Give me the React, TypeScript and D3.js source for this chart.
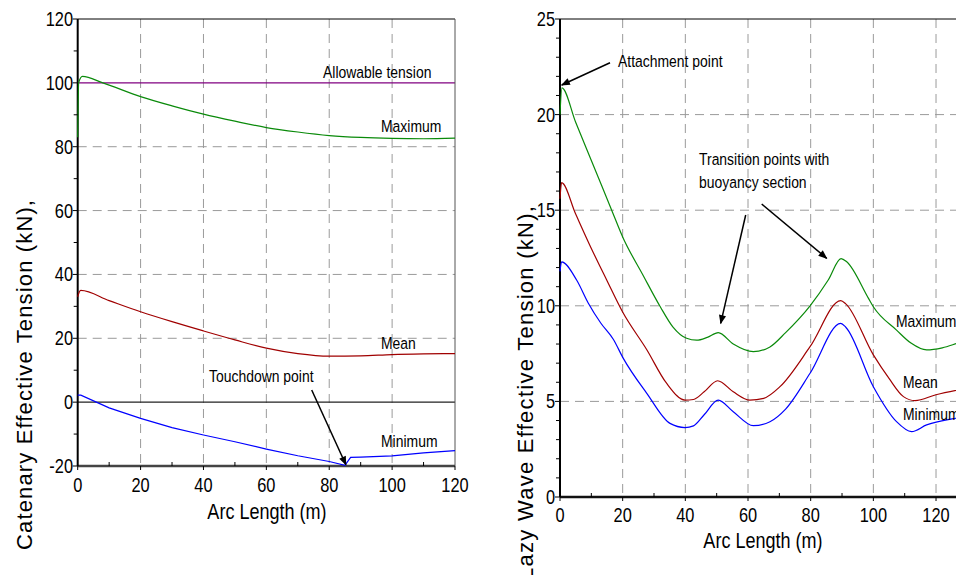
import React from "react";
import * as d3 from "d3";

// ---- catenary riser (left panel)
const catXTicks = [0, 20, 40, 60, 80, 100, 120];
const catYTicks = [-20, 0, 20, 40, 60, 80, 100, 120];
const allowable = 100;

const catMaxArc = [0, 0.3, 1.5, 8, 20, 30, 40, 50, 60, 70, 80, 90, 100, 110, 120];
const catMaxT = [83, 100, 102, 100, 95.7, 92.8, 90.2, 88, 86, 84.6, 83.5, 82.9, 82.6, 82.5, 82.7];

const catMeanArc = [0, 0.5, 1, 10, 20, 30, 40, 50, 60, 70, 80, 90, 100, 110, 120];
const catMeanT = [33, 34.5, 35, 31.8, 28.3, 25.2, 22.3, 19.5, 16.9, 15.2, 14.4, 14.5, 14.9, 15.1, 15.2];

const catMinArc = [0, 1, 10, 20, 30, 40, 50, 60, 70, 80, 85, 86.8, 90, 100, 110, 120];
const catMinT = [2.2, 2.2, -1.8, -5.1, -8.0, -10.3, -12.4, -14.7, -16.8, -18.6, -19.8, -17.3, -17.2, -16.8, -15.9, -15.2];

// ---- lazy wave riser (right panel)
const lwXTicks = [0, 20, 40, 60, 80, 100, 120, 140];
const lwYTicks = [0, 5, 10, 15, 20, 25];

const lwMaxArc = [0, 0.6, 5, 10, 16.5, 20, 26.5, 32, 36, 40.4, 43.6, 47, 50.5, 55.3, 61.7, 67, 72, 79.8, 85.6, 89.7, 91.5, 98.4, 100, 107.4, 112, 117, 122, 127, 132];
const lwMaxT = [20.0, 21.4, 19.6, 17.6, 15.0, 13.6, 11.6, 9.95, 8.9, 8.3, 8.2, 8.35, 8.6, 8.0, 7.6, 7.85, 8.6, 10.0, 11.35, 12.47, 12.3, 10.4, 9.95, 8.73, 8.05, 7.69, 7.8, 8.05, 8.3];

const lwMeanArc = [0, 0.5, 5, 10, 14.9, 19.9, 27.7, 34, 39.9, 42.6, 46, 50.3, 55.3, 60.6, 65, 70.2, 79.8, 89.6, 91.2, 100, 105, 109.6, 113.3, 120, 132];
const lwMeanT = [15.6, 16.44, 14.8, 13.0, 11.35, 9.7, 7.7, 5.95, 5.07, 5.1, 5.5, 6.08, 5.5, 5.07, 5.16, 5.77, 7.86, 10.27, 10.1, 7.43, 6.2, 5.25, 5.04, 5.35, 5.75];

const lwMinArc = [0, 0.5, 5.3, 9, 13, 17, 20.2, 27.7, 35.1, 39.9, 42.6, 46, 50.5, 55.3, 61.7, 67, 72, 79.8, 89.6, 91.2, 100, 107.4, 112.2, 117, 126.4, 132];
const lwMinT = [11.8, 12.3, 11.35, 10.15, 9.1, 8.25, 7.25, 5.42, 3.85, 3.63, 3.72, 4.3, 5.07, 4.46, 3.73, 3.94, 4.6, 6.47, 9.08, 8.88, 5.77, 3.94, 3.42, 3.77, 4.12, 4.25];

const sans = "'Liberation Sans', Arial, sans-serif";
const GREEN = "#0a8a0a";
const RED = "#a00000";
const BLUE = "#0000ff";
const PURPLE = "#800080";
const GRID = "#9a9a9a";

const zip = (xs: number[], ys: number[]) => xs.map((x, i) => [x, ys[i]] as [number, number]);

// condensed text (the original uses an Arial Narrow look)
const NText = ({ x, y, size = 17, anchor = "start", children }: any) => (
  <text transform={`translate(${x},${y}) scale(0.82,1)`} textAnchor={anchor} fontFamily={sans} fontSize={size} fill="#000">
    {children}
  </text>
);

export default function App() {
  // left panel scales
  const cx = d3.scaleLinear().domain([0, 120]).range([77.7, 455]);
  const cy = d3.scaleLinear().domain([-20, 120]).range([466, 19]);
  // right panel scales (axis runs past the window edge)
  const lx = d3.scaleLinear().domain([0, 140]).range([560, 998.7]);
  const ly = d3.scaleLinear().domain([0, 25]).range([497, 19]);

  const cLine = d3.line<[number, number]>().x(d => cx(d[0])).y(d => cy(d[1])).curve(d3.curveMonotoneX);
  const cLineLin = d3.line<[number, number]>().x(d => cx(d[0])).y(d => cy(d[1]));
  const lLine = d3.line<[number, number]>().x(d => lx(d[0])).y(d => ly(d[1])).curve(d3.curveMonotoneX);

  const catMinor = d3.range(-10, 120, 20);
  const catXMinor = d3.range(10, 120, 20);
  const lwMinor = d3.range(0, 26, 1).filter(v => v % 5 !== 0);
  const lwXMinor = d3.range(10, 140, 20);

  return (
    <svg width={956} height={575} style={{ position: "absolute", left: 0, top: 0, background: "#fff" }}>
      <defs>
        <marker id="arr" viewBox="0 0 10 10" refX="9" refY="5" markerWidth="10" markerHeight="9" orient="auto-start-reverse" markerUnits="userSpaceOnUse">
          <path d="M0,1 L10,5 L0,9 z" fill="#000" />
        </marker>
      </defs>

      {/* ================= left panel ================= */}
      <g>
        {catXTicks.slice(1, -1).map(t => (
          <line key={"cgx" + t} x1={cx(t)} x2={cx(t)} y1={cy(120)} y2={cy(-20)} stroke={GRID} strokeDasharray="9,6" />
        ))}
        {[20, 40, 60, 80].map(t => (
          <line key={"cgy" + t} x1={cx(0)} x2={cx(120)} y1={cy(t)} y2={cy(t)} stroke={GRID} strokeDasharray="9,6" />
        ))}
        <line x1={cx(0)} x2={cx(120)} y1={cy(0)} y2={cy(0)} stroke="#222" strokeWidth={1.2} />
        <line x1={cx(0)} x2={cx(120)} y1={cy(allowable)} y2={cy(allowable)} stroke={PURPLE} strokeWidth={1.2} />
        {/* frame */}
        <line x1={cx(0)} x2={cx(120)} y1={cy(120)} y2={cy(120)} stroke="#000" />
        <line x1={cx(120)} x2={cx(120)} y1={cy(120)} y2={cy(-20)} stroke="#555" />
        <line x1={cx(0)} x2={cx(120)} y1={cy(-20)} y2={cy(-20)} stroke="#444" strokeWidth={2.5} />
        <line x1={cx(0)} x2={cx(0)} y1={cy(120)} y2={cy(-20)} stroke="#000" strokeWidth={2} />

        <path d={cLine(zip(catMaxArc, catMaxT)) || ""} fill="none" stroke={GREEN} strokeWidth={1.2} />
        <path d={cLine(zip(catMeanArc, catMeanT)) || ""} fill="none" stroke={RED} strokeWidth={1.2} />
        <path d={cLineLin(zip(catMinArc, catMinT)) || ""} fill="none" stroke={BLUE} strokeWidth={1.2} />

        {/* y axis ticks & labels */}
        {catYTicks.map(t => (
          <g key={"cyt" + t}>
            <line x1={cx(0) - 5} x2={cx(0)} y1={cy(t)} y2={cy(t)} stroke="#000" />
            <NText x={73} y={cy(t) + 7} size={20} anchor="end">{t}</NText>
          </g>
        ))}
        {catMinor.map(t => (
          <line key={"cym" + t} x1={cx(0) - 4} x2={cx(0)} y1={cy(t)} y2={cy(t)} stroke="#000" />
        ))}
        {catXTicks.map(t => (
          <g key={"cxt" + t}>
            <line x1={cx(t)} x2={cx(t)} y1={cy(-20)} y2={cy(-20) + 4} stroke="#000" />
            <NText x={cx(t)} y={492} size={20} anchor="middle">{t}</NText>
          </g>
        ))}
        {catXMinor.map(t => (
          <line key={"cxm" + t} x1={cx(t)} x2={cx(t)} y1={cy(-20) - 4} y2={cy(-20)} stroke="#000" />
        ))}
        <NText x={267} y={519} size={22} anchor="middle">Arc Length (m)</NText>
        <text transform="translate(32,550) rotate(-90)" x={0} y={0} textLength={350} lengthAdjust="spacing" fontFamily={sans} fontSize={22} fill="#000">Catenary Effective Tension (kN),</text>

        {/* annotations */}
        <NText x={323} y={78}>Allowable tension</NText>
        <NText x={381} y={132}>Maximum</NText>
        <NText x={381} y={349}>Mean</NText>
        <NText x={381} y={447}>Minimum</NText>
        <NText x={209} y={382}>Touchdown point</NText>
        <line x1={311.7} y1={390} x2={cx(85.3)} y2={cy(-19.6)} stroke="#000" strokeWidth={1.5} markerEnd="url(#arr)" />
      </g>

      {/* ================= right panel ================= */}
      <g>
        {lwXTicks.slice(1).map(t => (
          <line key={"lgx" + t} x1={lx(t)} x2={lx(t)} y1={ly(25)} y2={ly(0)} stroke={GRID} strokeDasharray="9,6" />
        ))}
        {lwYTicks.slice(1, -1).map(t => (
          <line key={"lgy" + t} x1={lx(0)} x2={956} y1={ly(t)} y2={ly(t)} stroke={GRID} strokeDasharray="9,6" />
        ))}
        <line x1={lx(0)} x2={956} y1={ly(25)} y2={ly(25)} stroke="#000" />
        <line x1={lx(0)} x2={956} y1={ly(0)} y2={ly(0)} stroke="#111" strokeWidth={2.5} />
        <line x1={lx(0)} x2={lx(0)} y1={ly(25)} y2={ly(0)} stroke="#000" strokeWidth={2} />

        <path d={lLine(zip(lwMaxArc, lwMaxT)) || ""} fill="none" stroke={GREEN} strokeWidth={1.2} />
        <path d={lLine(zip(lwMeanArc, lwMeanT)) || ""} fill="none" stroke={RED} strokeWidth={1.2} />
        <path d={lLine(zip(lwMinArc, lwMinT)) || ""} fill="none" stroke={BLUE} strokeWidth={1.2} />

        {lwYTicks.map(t => (
          <g key={"lyt" + t}>
            <line x1={lx(0) - 5} x2={lx(0)} y1={ly(t)} y2={ly(t)} stroke="#000" />
            <NText x={555} y={ly(t) + 7} size={20} anchor="end">{t}</NText>
          </g>
        ))}
        {lwMinor.map(t => (
          <line key={"lym" + t} x1={lx(0) - 4} x2={lx(0)} y1={ly(t)} y2={ly(t)} stroke="#000" />
        ))}
        {lwXTicks.map(t => (
          <g key={"lxt" + t}>
            <line x1={lx(t)} x2={lx(t)} y1={ly(0)} y2={ly(0) + 4} stroke="#000" />
            <NText x={lx(t)} y={522} size={20} anchor="middle">{t}</NText>
          </g>
        ))}
        {lwXMinor.map(t => (
          <line key={"lxm" + t} x1={lx(t)} x2={lx(t)} y1={ly(0) - 4} y2={ly(0)} stroke="#000" />
        ))}
        <NText x={763} y={548} size={22} anchor="middle">Arc Length (m)</NText>
        <text transform="translate(533,580) rotate(-90)" x={0} y={0} textLength={374} lengthAdjust="spacing" fontFamily={sans} fontSize={22} fill="#000">Lazy Wave Effective Tension (kN),</text>

        <NText x={618} y={67}>Attachment point</NText>
        <line x1={610} y1={62.7} x2={561.7} y2={85} stroke="#000" strokeWidth={1.5} markerEnd="url(#arr)" />
        <NText x={699} y={165}>Transition points with</NText>
        <NText x={699} y={188}>buoyancy section</NText>
        <line x1={745.7} y1={215} x2={720.7} y2={323.3} stroke="#000" strokeWidth={1.5} markerEnd="url(#arr)" />
        <line x1={761.7} y1={204} x2={826.7} y2={258.3} stroke="#000" strokeWidth={1.5} markerEnd="url(#arr)" />
        <NText x={896} y={327}>Maximum</NText>
        <NText x={903} y={388}>Mean</NText>
        <NText x={903} y={420}>Minimum</NText>
      </g>
    </svg>
  );
}
